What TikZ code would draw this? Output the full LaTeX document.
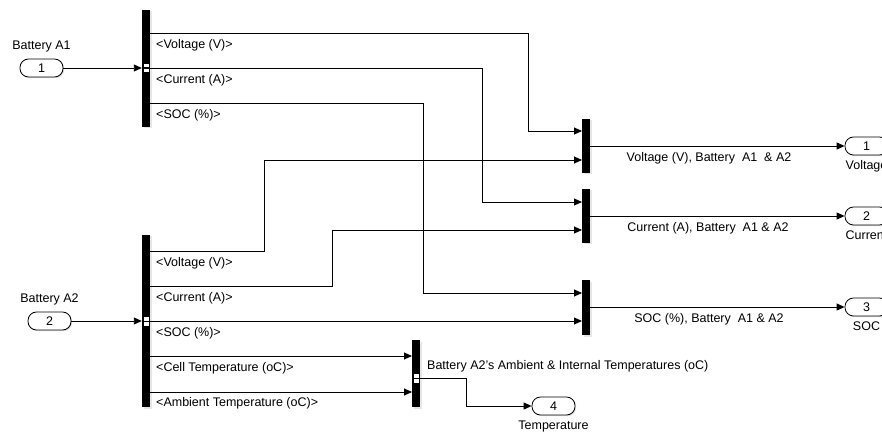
\documentclass[tikz,border=0pt]{standalone}
\usepackage{fontspec}
\setmainfont{Liberation Sans}
\usepackage{tikz}
\usetikzlibrary{arrows.meta, positioning, shadows}

\newcommand{\sigfont}{\fontsize{12.5}{14}\selectfont}

\begin{document}
\begin{tikzpicture}[x=1pt, y=-1pt, font=\sigfont,
    port/.style={draw, fill=white, rounded corners=8.5pt, minimum width=43pt, minimum height=18pt,
        inner sep=0pt, line width=0.8pt, drop shadow={opacity=0.25, shadow xshift=1.2pt, shadow yshift=-1.2pt}},
    bar/.style={fill=black, minimum width=8pt, inner sep=0pt,
        drop shadow={opacity=0.2, shadow xshift=1.5pt, shadow yshift=-1.5pt}},
    portmark/.style={draw, fill=white, minimum width=5.5pt, minimum height=4.5pt, inner sep=0pt, line width=0.5pt},
    sig/.style={line width=0.9pt, -{Triangle[length=8pt, width=7pt]}},
    lbl/.style={anchor=west, inner sep=0pt},
    txt/.style={inner sep=0pt}]
        \useasboundingbox (0,0) rectangle (882,435);

        % inports and outports
        \node[port] (in1) at (41.5,68) {1};
        \node[port] (in2) at (49.5,321) {2};
        \node[port] (out1) at (866.5,146) {1};
        \node[port] (out2) at (866.5,216) {2};
        \node[port] (out3) at (866.5,307) {3};
        \node[port] (out4) at (553.5,406) {4};
        \node[txt, above=6pt of in1] (tin1) {Battery A1};
        \node[txt, above=6pt of in2] (tin2) {Battery A2};
        \node[txt, below=5pt of out1] (tout1) {Voltage};
        \node[txt, below=5pt of out2] (tout2) {Current};
        \node[txt, below=5pt of out3] (tout3) {SOC};
        \node[txt, below=5pt of out4] (tout4) {Temperature};

        % bus selectors and muxes
        \node[bar, minimum height=117pt] (busA1) at (146,68.5) {};
        \node[bar, minimum height=172pt] (busA2) at (146,321) {};
        \node[bar, minimum height=54pt] (mux1) at (586,146) {};
        \node[bar, minimum height=54pt] (mux2) at (586,216) {};
        \node[bar, minimum height=55pt] (mux3) at (586,307.5) {};
        \node[bar, minimum height=67pt] (muxT) at (416,373.5) {};
        \node[portmark, yshift=2.5pt] at (busA1.center |- in1) {};
        \node[portmark, yshift=-2.5pt] at (busA1.center |- in1) {};
        \node[portmark, yshift=2.5pt] at (busA2.center |- in2) {};
        \node[portmark, yshift=-2.5pt] at (busA2.center |- in2) {};
        \node[portmark, yshift=2.5pt] at (416,378) {};
        \node[portmark, yshift=-2.5pt] at (416,378) {};

        % signal ends
        \coordinate (a1v) at (150,33);
        \coordinate (a1c) at (150,68);
        \coordinate (a1s) at (150,103);
        \coordinate (a2v) at (150,251);
        \coordinate (a2c) at (150,286);
        \coordinate (a2s) at (150,321);
        \coordinate (a2t) at (150,356);
        \coordinate (a2a) at (150,392);
        \coordinate (m1a) at (582,131);
        \coordinate (m1b) at (582,160);
        \coordinate (m2a) at (582,202);
        \coordinate (m2b) at (582,230);
        \coordinate (m3a) at (582,293);
        \coordinate (m3b) at (582,321);
        \coordinate (mta) at (412,356);
        \coordinate (mtb) at (412,392);
        \coordinate (mto) at (420,378);

        % signals
        \draw[sig] (in1) -- (in1 -| busA1.west);
        \draw[sig] (in2) -- (in2 -| busA2.west);
        \draw[sig] (a1v) -| (528,131) -- (m1a);
        \draw[sig] (a1c) -| (482,202) -- (m2a);
        \draw[sig] (a1s) -| (423,293) -- (m3a);
        \draw[sig] (a2v) -| (264,160) -- (m1b);
        \draw[sig] (a2c) -| (332,230) -- (m2b);
        \draw[sig] (a2s) -- (m3b);
        \draw[sig] (a2t) -- (mta);
        \draw[sig] (a2a) -- (mtb);
        \draw[sig] (mux1.east |- out1) -- (out1);
        \draw[sig] (mux2.east |- out2) -- (out2);
        \draw[sig] (mux3.east |- out3) -- (out3);
        \draw[sig] (mto) -| (466,406) -- (out4);

        % signal labels
        \node[lbl] (la1v) at (156,45) {<Voltage (V)>};
        \node[lbl] (la1c) at (156,80) {<Current (A)>};
        \node[lbl] (la1s) at (156,115) {<SOC (\%)>};
        \node[lbl] (la2v) at (156,263) {<Voltage (V)>};
        \node[lbl] (la2c) at (156,298) {<Current (A)>};
        \node[lbl] (la2s) at (156,333) {<SOC (\%)>};
        \node[lbl] (la2t) at (156,368) {<Cell Temperature (oC)>};
        \node[lbl] (la2a) at (156,403) {<Ambient Temperature (oC)>};
        \node[txt] (lm1) at (709,158) {Voltage (V), Battery\ \ A1\ \ \& A2};
        \node[txt] (lm2) at (708,228) {Current (A), Battery\ \ A1 \& A2};
        \node[txt] (lm3) at (709,319) {SOC (\%), Battery\ \ A1 \& A2};
        \node[lbl] (lmT) at (427,366) {Battery A2's Ambient \& Internal Temperatures (oC)};
\end{tikzpicture}
\end{document}
